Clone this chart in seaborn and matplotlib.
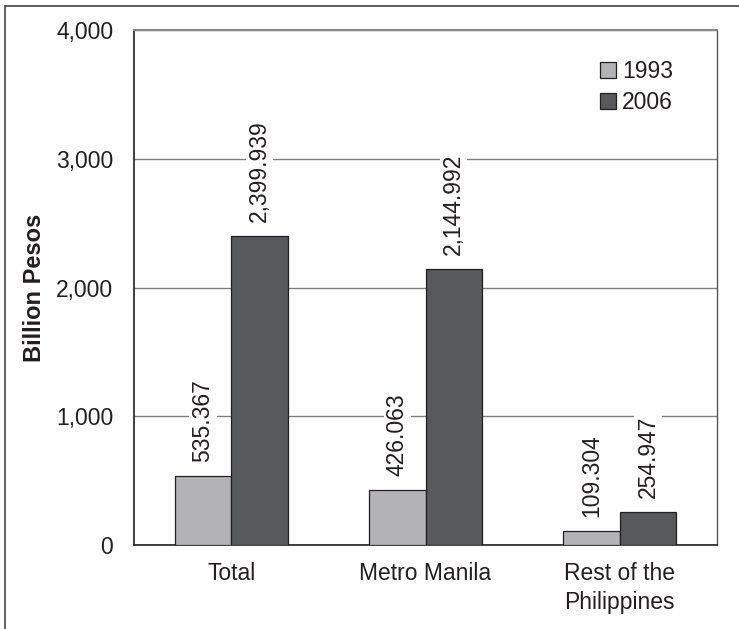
import matplotlib
matplotlib.use("Agg")
import matplotlib.pyplot as plt
import seaborn as sns
import pandas as pd
from matplotlib.lines import Line2D
from matplotlib.patches import Patch

categories = ["Total", "Metro Manila", "Rest of the\nPhilippines"]
years = ["1993", "2006"]
values_1993 = [535.367, 426.063, 109.304]
values_2006 = [2399.939, 2144.992, 254.947]
label_1993 = ["535.367", "426.063", "109.304"]
label_2006 = ["2,399.939", "2,144.992", "254.947"]
yticks = [0, 1000, 2000, 3000, 4000]
ytick_labels = ["0", "1,000", "2,000", "3,000", "4,000"]
colors = ["#b3b3b5", "#58595b"]

df = pd.DataFrame({
    "Region": categories * 2,
    "Year": [years[0]] * 3 + [years[1]] * 3,
    "Value": values_1993 + values_2006,
})

sns.set_style("white")
plt.rcParams["font.family"] = ["Liberation Sans", "DejaVu Sans"]

FS = 16.5
fig = plt.figure(figsize=(7.39, 6.29), dpi=100)
ax = fig.add_axes([134 / 739, 1 - 545 / 629, (717 - 134) / 739, (545 - 30) / 629])

sns.barplot(data=df, x="Region", y="Value", hue="Year", palette=colors,
            width=0.58, edgecolor="#231f20", linewidth=0.9, ax=ax,
            legend=False, zorder=3)

ax.set_ylim(0, 4000)
ax.set_xlim(-0.5, 2.5)
ax.set_yticks(yticks)
ax.set_yticklabels(ytick_labels, fontsize=FS, color="#231f20")
ax.yaxis.grid(True, color="#808080", linewidth=1.0, zorder=0)
ax.set_axisbelow(True)
ax.tick_params(axis="y", length=0, pad=15)
ax.tick_params(axis="x", which="major", length=0, pad=12, labelsize=FS, labelcolor="#231f20")
for t in ax.get_xticklabels():
    t.set_linespacing(1.35)
ax.set_xticks([0.5, 1.5], minor=True)
ax.tick_params(axis="x", which="minor", direction="in", length=8, width=0.8, color="#555555")
ax.set_xlabel("")
ax.set_ylabel("Billion Pesos", fontsize=17, fontweight="bold", color="#231f20", labelpad=7)

for s in ["left", "bottom"]:
    ax.spines[s].set_color("#231f20")
    ax.spines[s].set_linewidth(1.2)
ax.spines["right"].set_color("#555555")
ax.spines["right"].set_linewidth(1.0)
ax.spines["top"].set_color("#888888")
ax.spines["top"].set_linewidth(1.5)

# value labels
for cont, labs in zip(ax.containers, [label_1993, label_2006]):
    for bar, lab in zip(cont, labs):
        x = bar.get_x() + bar.get_width() / 2
        h = bar.get_height()
        ax.annotate(lab, (x, h), xytext=(0, 10), textcoords="offset points",
                    rotation=90, ha="center", va="bottom", fontsize=FS,
                    color="#231f20", zorder=4,
                    bbox=dict(boxstyle="square,pad=0.1", fc="white", ec="none"))

handles = [Patch(facecolor=c, edgecolor="#231f20", linewidth=0.9) for c in colors]
ax.legend(handles, years, loc="upper right", bbox_to_anchor=(0.948, 0.968),
          frameon=False, fontsize=FS, handlelength=0.72, handleheight=0.72,
          handletextpad=0.25, labelspacing=0.33, labelcolor="#231f20",
          borderaxespad=0.2)

# outer frame (left and top edges)
fig.add_artist(Line2D([5 / 739, 5 / 739], [0, 1 - 6 / 629], transform=fig.transFigure,
                      color="#444444", linewidth=1.2))
fig.add_artist(Line2D([5 / 739, 1], [1 - 6 / 629, 1 - 6 / 629], transform=fig.transFigure,
                      color="#444444", linewidth=1.2))

fig.savefig("out.png", dpi=100)
